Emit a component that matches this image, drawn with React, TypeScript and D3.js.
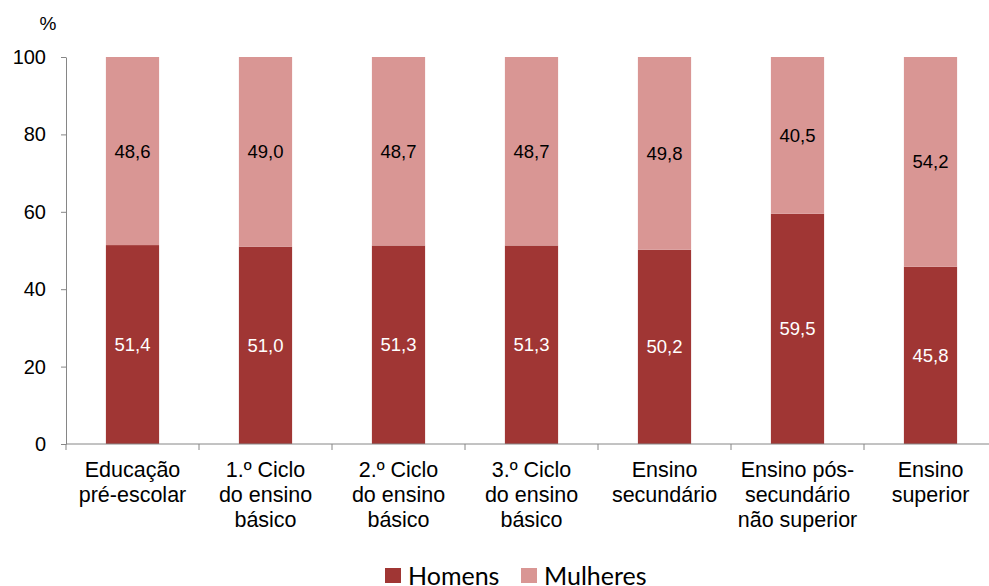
import { useRef, useEffect } from "react";
import * as d3 from "d3";

const categories = [
  "Educação\npré-escolar",
  "1.º Ciclo\ndo ensino\nbásico",
  "2.º Ciclo\ndo ensino\nbásico",
  "3.º Ciclo\ndo ensino\nbásico",
  "Ensino\nsecundário",
  "Ensino pós-\nsecundário\nnão superior",
  "Ensino\nsuperior",
];
const homens = [51.4, 51.0, 51.3, 51.3, 50.2, 59.5, 45.8];
const mulheres = [48.6, 49.0, 48.7, 48.7, 49.8, 40.5, 54.2];
const seriesNames = ["Homens", "Mulheres"];
const yTicks = [0, 20, 40, 60, 80, 100];

const W = 989;
const H = 586;
const colors = ["#A03634", "#D99694"];
const fmt = (v: number) => v.toFixed(1).replace(".", ",");

const App = () => {
  const svgRef = useRef<SVGSVGElement>(null);

  useEffect(() => {
    const svg = d3.select(svgRef.current);
    svg.selectAll("*").remove();

    const margin = { top: 57, right: -8, bottom: 142, left: 66 };
    const width = W - margin.left - margin.right;
    const height = H - margin.top - margin.bottom;

    const chart = svg
      .append("g")
      .attr("transform", `translate(${margin.left},${margin.top})`);

    const x = d3
      .scaleBand()
      .domain(categories)
      .range([0, width])
      .paddingInner(0.6)
      .paddingOuter(0.3);
    const step = x.step();
    const y = d3.scaleLinear().domain([0, 100]).range([height, 0]);

    const font = "'Liberation Sans', Arial, sans-serif";

    // y axis
    const yAxis = chart
      .append("g")
      .call(d3.axisLeft(y).tickValues(yTicks).tickSize(5).tickSizeOuter(0).tickPadding(15));
    yAxis.select(".domain").attr("stroke", "#868686");
    yAxis.selectAll(".tick line").attr("stroke", "#868686");
    yAxis
      .selectAll(".tick text")
      .attr("font-family", font)
      .attr("font-size", 20)
      .attr("fill", "#000");

    svg
      .append("text")
      .attr("x", 48)
      .attr("y", 30)
      .attr("text-anchor", "middle")
      .attr("font-family", font)
      .attr("font-size", 19)
      .text("%");

    // stacked bars
    const rows = categories.map((c, i) => ({ cat: c, vals: [homens[i], mulheres[i]] }));
    rows.forEach((r) => {
      let base = 0;
      r.vals.forEach((v, si) => {
        chart
          .append("rect")
          .attr("x", x(r.cat)!)
          .attr("width", x.bandwidth())
          .attr("y", y(base + v))
          .attr("height", y(base) - y(base + v))
          .attr("fill", colors[si]);
        chart
          .append("text")
          .attr("x", x(r.cat)! + x.bandwidth() / 2)
          .attr("y", y(base + v / 2))
          .attr("dy", "0.35em")
          .attr("text-anchor", "middle")
          .attr("font-family", font)
          .attr("font-size", 18.5)
          .attr("fill", si === 0 ? "#fff" : "#000")
          .text(fmt(v));
        base += v;
      });
    });

    // x axis
    const xg = chart.append("g").attr("transform", `translate(0,${height})`);
    xg.append("line")
      .attr("x1", 0)
      .attr("x2", width)
      .attr("stroke", "#868686");
    d3.range(categories.length + 1).forEach((k) => {
      xg.append("line")
        .attr("x1", k * step)
        .attr("x2", k * step)
        .attr("y1", 0)
        .attr("y2", 6)
        .attr("stroke", "#868686");
    });
    categories.forEach((c) => {
      const t = xg
        .append("text")
        .attr("x", x(c)! + x.bandwidth() / 2)
        .attr("y", 33)
        .attr("text-anchor", "middle")
        .attr("font-family", font)
        .attr("font-size", 21.5)
        .attr("fill", "#000");
      c.split("\n").forEach((line, li) => {
        t.append("tspan")
          .attr("x", x(c)! + x.bandwidth() / 2)
          .attr("dy", li === 0 ? 0 : 25)
          .text(line);
      });
    });

    // legend
    const legendFont = "Lato, 'Open Sans', sans-serif";
    const lx = [385, 521];
    seriesNames.forEach((n, i) => {
      svg
        .append("rect")
        .attr("x", lx[i])
        .attr("y", 568)
        .attr("width", 16)
        .attr("height", 15)
        .attr("fill", colors[i]);
      svg
        .append("text")
        .attr("x", lx[i] + 23)
        .attr("y", 585)
        .attr("font-family", legendFont)
        .attr("font-size", 25)
        .attr("fill", "#000")
        .text(n);
    });
  }, []);

  return (
    <svg
      ref={svgRef}
      width={W}
      height={H}
      style={{ position: "absolute", left: 0, top: 0 }}
    ></svg>
  );
};

export default App;
